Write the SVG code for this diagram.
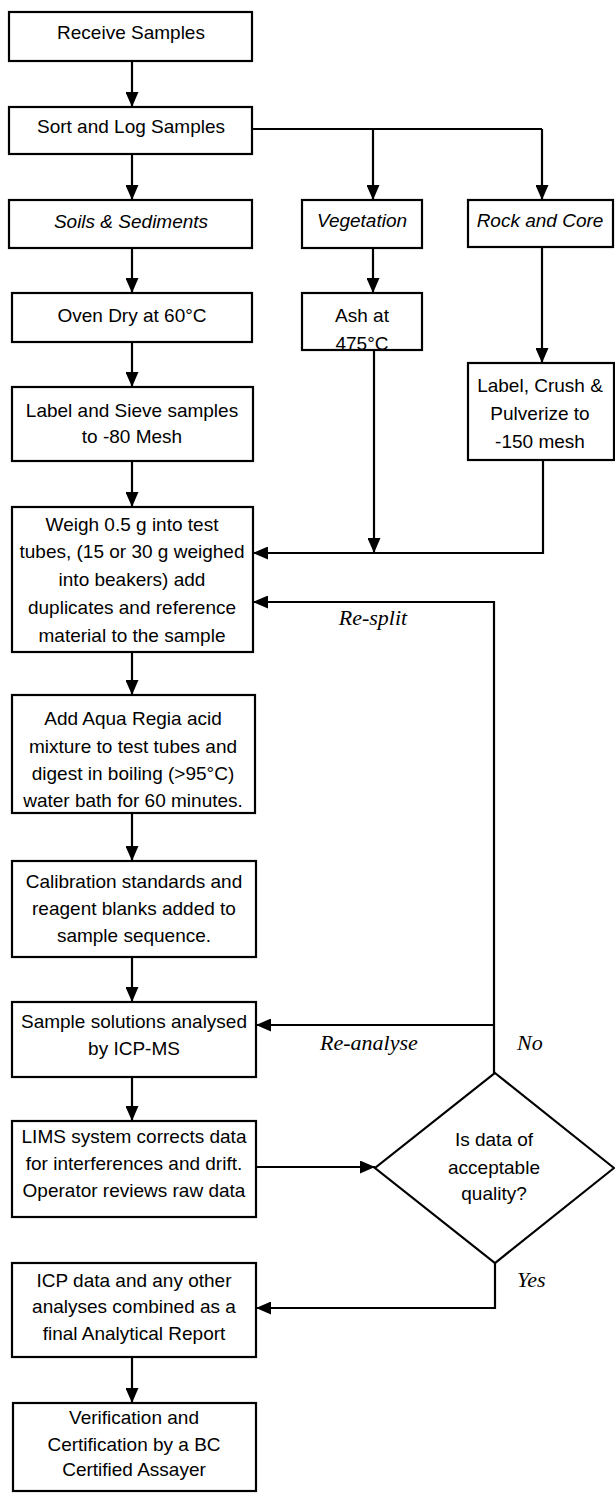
<svg xmlns="http://www.w3.org/2000/svg" width="615" height="1493" viewBox="0 0 615 1493">
<style>
.box{fill:#fff;stroke:#000;stroke-width:2.2}
.t{font-family:"Liberation Sans",Arial,sans-serif;font-size:19px;text-anchor:middle;fill:#000}
.ti{font-family:"Liberation Sans",Arial,sans-serif;font-size:19px;font-style:italic;text-anchor:middle;fill:#000}
.lbl{font-family:"Liberation Serif","Times New Roman",serif;font-size:22px;font-style:italic;fill:#000}
.c{fill:none;stroke:#000;stroke-width:2.2}
</style>
<defs>
<marker id="ah" viewBox="0 0 15 13" refX="15" refY="6.5" markerWidth="15" markerHeight="13" markerUnits="userSpaceOnUse" orient="auto">
<path d="M0,0 L15,6.5 L0,13 z" fill="#000"/>
</marker>
</defs>
<rect width="615" height="1493" fill="#fff"/>
<g id="connectors">
<path class="c" d="M132,61 V107" marker-end="url(#ah)"/>
<path class="c" d="M132,154 V200" marker-end="url(#ah)"/>
<path class="c" d="M252,129 H542"/>
<path class="c" d="M373,129 V200" marker-end="url(#ah)"/>
<path class="c" d="M542,129 V200" marker-end="url(#ah)"/>
<path class="c" d="M373,248 V293" marker-end="url(#ah)"/>
<path class="c" d="M542,247 V363" marker-end="url(#ah)"/>
<path class="c" d="M132,248 V293" marker-end="url(#ah)"/>
<path class="c" d="M132,342 V387" marker-end="url(#ah)"/>
<path class="c" d="M132,461 V507" marker-end="url(#ah)"/>
<path class="c" d="M374,350 V553" marker-end="url(#ah)"/>
<path class="c" d="M543,460 V553 H253" marker-end="url(#ah)"/>
<path class="c" d="M494,1073 V602 H253" marker-end="url(#ah)"/>
<path class="c" d="M494,1025 H256" marker-end="url(#ah)"/>
<path class="c" d="M132,652 V695" marker-end="url(#ah)"/>
<path class="c" d="M132,813 V861" marker-end="url(#ah)"/>
<path class="c" d="M132,957 V1002" marker-end="url(#ah)"/>
<path class="c" d="M132,1077 V1121" marker-end="url(#ah)"/>
<path class="c" d="M256,1167 H375" marker-end="url(#ah)"/>
<path class="c" d="M495,1263 V1308 H256" marker-end="url(#ah)"/>
<path class="c" d="M132,1357 V1403" marker-end="url(#ah)"/>
<text class="lbl" x="373" y="625" text-anchor="middle">Re-split</text>
<text class="lbl" x="320" y="1050">Re-analyse</text>
<text class="lbl" x="517" y="1050">No</text>
<text class="lbl" x="517" y="1287">Yes</text>
</g>
<g id="receive">
<rect class="box" x="9" y="12" width="243" height="49"/>
<text class="t" x="131" y="39">Receive Samples</text>
</g>
<g id="sort">
<rect class="box" x="9" y="107" width="243" height="47"/>
<text class="t" x="131" y="133">Sort and Log Samples</text>
</g>
<g id="soils">
<rect class="box" x="9" y="200" width="243" height="48"/>
<text class="ti" x="131" y="228">Soils &amp; Sediments</text>
</g>
<g id="vegetation">
<rect class="box" x="302" y="200" width="120" height="48"/>
<text class="ti" x="362" y="227">Vegetation</text>
</g>
<g id="rock">
<rect class="box" x="468" y="200" width="145" height="47"/>
<text class="ti" x="540" y="227">Rock and Core</text>
</g>
<g id="ash">
<rect class="box" x="302" y="293" width="120" height="57"/>
<text class="t" x="362" y="322">Ash at</text>
<text class="t" x="362" y="350">475°C</text>
</g>
<g id="oven">
<rect class="box" x="12" y="293" width="240" height="49"/>
<text class="t" x="132" y="322">Oven Dry at 60°C</text>
</g>
<g id="sieve">
<rect class="box" x="12" y="387" width="241" height="74"/>
<text class="t" x="132" y="417">Label and Sieve samples</text>
<text class="t" x="132" y="443">to -80 Mesh</text>
</g>
<g id="crush">
<rect class="box" x="468" y="363" width="146" height="97"/>
<text class="t" x="540" y="392">Label, Crush &amp;</text>
<text class="t" x="540" y="420">Pulverize to</text>
<text class="t" x="540" y="448">-150 mesh</text>
</g>
<g id="weigh">
<rect class="box" x="12" y="507" width="241" height="145"/>
<text class="t" x="132" y="531">Weigh 0.5 g into test</text>
<text class="t" x="132" y="558">tubes, (15 or 30 g weighed</text>
<text class="t" x="132" y="586">into beakers) add</text>
<text class="t" x="132" y="614">duplicates and reference</text>
<text class="t" x="132" y="642">material to the sample</text>
</g>
<g id="digest">
<rect class="box" x="12" y="695" width="243" height="118"/>
<text class="t" x="133" y="725">Add Aqua Regia acid</text>
<text class="t" x="133" y="753">mixture to test tubes and</text>
<text class="t" x="133" y="780">digest in boiling (&gt;95°C)</text>
<text class="t" x="133" y="807">water bath for 60 minutes.</text>
</g>
<g id="calibration">
<rect class="box" x="12" y="861" width="244" height="96"/>
<text class="t" x="134" y="888">Calibration standards and</text>
<text class="t" x="134" y="915">reagent blanks added to</text>
<text class="t" x="134" y="942">sample sequence.</text>
</g>
<g id="icpms">
<rect class="box" x="12" y="1002" width="244" height="75"/>
<text class="t" x="134" y="1028">Sample solutions analysed</text>
<text class="t" x="134" y="1055">by ICP-MS</text>
</g>
<g id="lims">
<rect class="box" x="12" y="1121" width="244" height="96"/>
<text class="t" x="134" y="1143">LIMS system corrects data</text>
<text class="t" x="134" y="1170">for interferences and drift.</text>
<text class="t" x="134" y="1197">Operator reviews raw data</text>
</g>
<g id="decision">
<path class="box" d="M495,1073 L614,1168 L495,1263 L375,1168 Z"/>
<text class="t" x="494" y="1146">Is data of</text>
<text class="t" x="494" y="1174">acceptable</text>
<text class="t" x="494" y="1200">quality?</text>
</g>
<g id="report">
<rect class="box" x="12" y="1263" width="244" height="94"/>
<text class="t" x="134" y="1287">ICP data and any other</text>
<text class="t" x="134" y="1313">analyses combined as a</text>
<text class="t" x="134" y="1340">final Analytical Report</text>
</g>
<g id="verify">
<rect class="box" x="13" y="1403" width="243" height="88"/>
<text class="t" x="134" y="1424">Verification and</text>
<text class="t" x="134" y="1451">Certification by a BC</text>
<text class="t" x="134" y="1476">Certified Assayer</text>
</g>
</svg>
